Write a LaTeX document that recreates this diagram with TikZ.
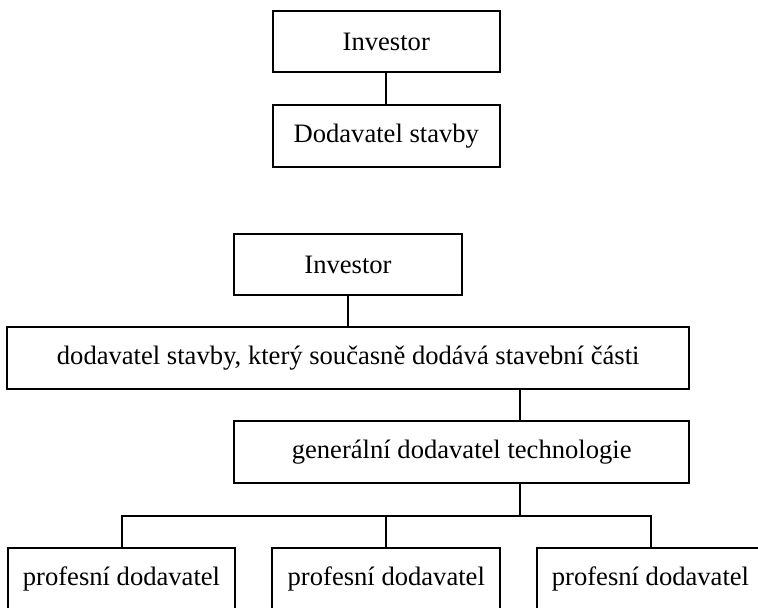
\documentclass[tikz,border=0pt]{standalone}
\usepackage{fontspec}
\setmainfont{Liberation Serif}
\begin{document}
\begin{tikzpicture}[x=1pt,y=-1pt,
  box/.style={draw=black,line width=2pt,inner sep=0pt,minimum height=62pt,
    font=\fontsize{26.6}{30}\selectfont,text=black},
  link/.style={draw=black,line width=2pt}]
\useasboundingbox (0,0) rectangle (758,608);
\clip (0,0) rectangle (758,608);
% simple two-level structure
\node[box,minimum width=227.3pt,minimum height=61pt] (inv1) at (386.3,41.5) {Investor};
\node[box,minimum width=227.3pt] (dod1) at (386.3,135.7) {Dodavatel stavby};
\draw[link] (inv1.south) -- (dod1.north);
% structure with a general supplier of technology
\node[box,minimum width=227.4pt,minimum height=61pt] (inv2) at (348,264.5) {Investor};
\node[box,minimum width=681.7pt] (dod2) at (348.2,358.3) {dodavatel stavby, který současně dodává stavební části};
\node[box,minimum width=454.7pt] (gen) at (461.7,452.3) {generální dodavatel technologie};
\node[box,minimum width=227.7pt] (p1) at (121.5,578.5) {profesní dodavatel};
\node[box,minimum width=227.7pt] (p2) at (386.3,578.5) {profesní dodavatel};
\node[box,minimum width=227.7pt] (p3) at (650.5,578.5) {profesní dodavatel};
\coordinate (jx) at (519.5,0);
\coordinate (bus) at (0,515.7);
\draw[link] (inv2.south) -- (dod2.north -| inv2.south);
\draw[link] (dod2.south -| jx) -- (gen.north -| jx);
\draw[link] (gen.south -| jx) -- (jx |- bus);
\draw[link] (p1.north) -- (p1.north |- bus) -- (p3.north |- bus) -- (p3.north);
\draw[link] (p2.north) -- (p2.north |- bus);
\end{tikzpicture}
\end{document}
